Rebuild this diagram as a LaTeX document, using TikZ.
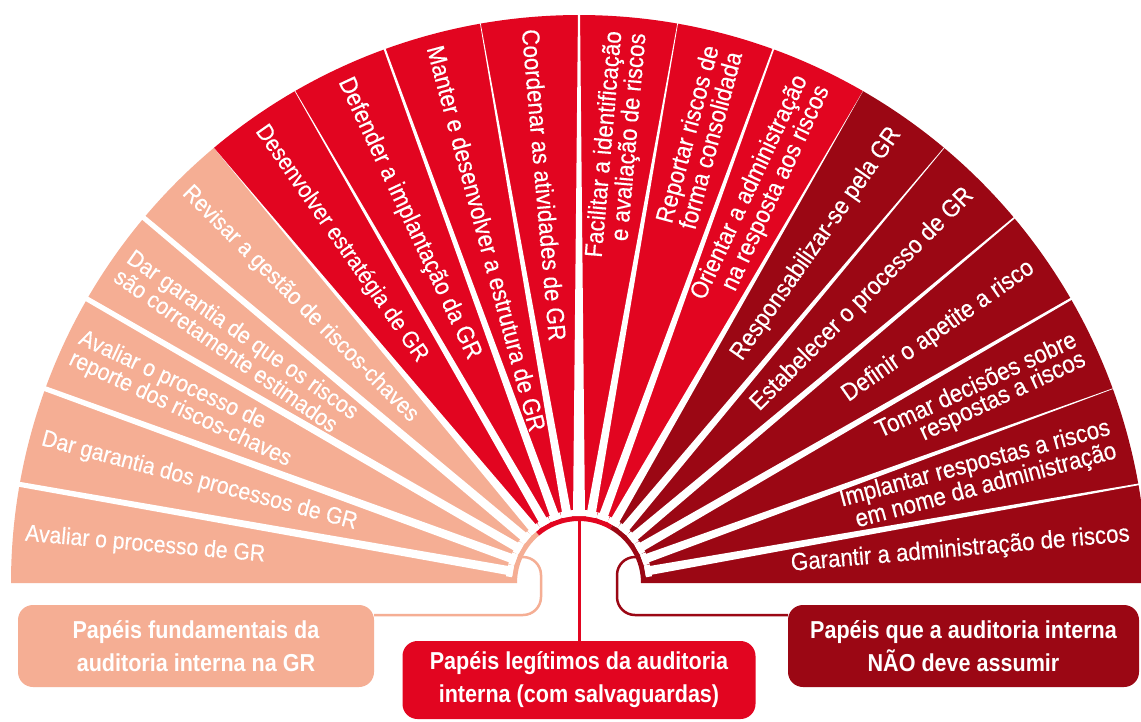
\documentclass[tikz,border=0pt]{standalone}
\usepackage{fontspec}
\setmainfont{Liberation Sans}
\newfontfamily\secfont{Liberation Sans}[FakeStretch=0.9, FakeBold=0.35]
\newfontfamily\boxfont{Liberation Sans}[FakeStretch=0.88]
\definecolor{peach}{HTML}{F5AE94}
\definecolor{ired}{HTML}{E20520}
\definecolor{dred}{HTML}{9B0714}
\tikzset{
  sectxt/.style={text=white, inner sep=0pt, font=\secfont\fontsize{23.5}{20.5}\selectfont},
  bigtxt/.style={font=\secfont\fontsize{24.8}{21}\selectfont},
  lefttxt/.style={sectxt, anchor=west, align=left},
  righttxt/.style={sectxt, bigtxt, anchor=east, align=right},
  rolebox/.style={rounded corners=15pt, text=white, inner sep=0pt, align=center,
    font=\boxfont\bfseries\fontsize{24.5}{33}\selectfont},
  link/.style={line width=2.5pt, rounded corners=18pt}
}
\begin{document}
\begin{tikzpicture}[x=1pt,y=-1pt]
\fill[white] (0,0) rectangle (1141,721);
\useasboundingbox (0,0) rectangle (1141,721);

% boxes
\node[rolebox, fill=peach, minimum width=356, minimum height=82] (pbox) at (196,646)
  {Papéis fundamentais da\\auditoria interna na GR};
\node[rolebox, fill=ired, minimum width=353, minimum height=78] (rbox) at (579,680)
  {Papéis legítimos da auditoria\\interna (com salvaguardas)};
\node[rolebox, fill=dred, minimum width=351, minimum height=82] (dbox) at (963.5,646)
  {Papéis que a auditoria interna\\NÃO deve assumir};

% connectors
\coordinate (pstart) at (516,557);
\coordinate (pend) at (374,615);
\coordinate (dstart) at (642,557);
\coordinate (dend) at (788,615);
\coordinate (rstart) at (579,521);
\draw[link, peach] (pstart) -- (541,557) -- (541,615) -- (pend);
\draw[link, dred] (dstart) -- (617,557) -- (617,615) -- (dend);

% fan
\begin{scope}[shift={(579,583)}, y=1pt]
\fill[peach] (180:62) -- (180:568) arc[start angle=180,end angle=130,radius=568]
  -- (130:62) arc[start angle=130,end angle=180,radius=62] -- cycle;
\fill[ired] (130:62) -- (130:568) arc[start angle=130,end angle=60,radius=568]
  -- (60:62) arc[start angle=60,end angle=130,radius=62] -- cycle;
\fill[dred] (60:62) -- (60:568) arc[start angle=60,end angle=0,radius=568]
  -- (0:62) arc[start angle=0,end angle=60,radius=62] -- cycle;
\foreach \a/\wa/\wb in {170/9/5,160/9/5,150/9/5,140/9/5,130/9/0,120/9/0.6,110/9/2,
  100/9/0.6,90/12/2,80/9/0.6,70/9/1.6,60/9/0,50/9/0.6,40/9/1.6,30/9/2.2,20/9/0.6,10/9/1.6}
  {\fill[white, rotate=\a] (67,-\wa/2) -- (572,-\wb/2) -- (572,\wb/2) -- (67,\wa/2) -- cycle;
   \fill[white, rotate=\a] (67,-\wa/2-1.5) rectangle (73,\wa/2+1.5);}

\node[lefttxt, rotate=-5]  (s0) at (175:556) {Avaliar o processo de GR};
\node[lefttxt, rotate=-15] (s1) at (165:556) {Dar garantia dos processos de GR};
\node[lefttxt, rotate=-25] (s2) at (155:556) {Avaliar o processo de\\reporte dos riscos-chaves};
\node[lefttxt, rotate=-35] (s3) at (145:556) {Dar garantia de que os riscos\\são corretamente estimados};
\node[lefttxt, rotate=-45] (s4) at (135:556) {Revisar a gestão de riscos-chaves};
\node[lefttxt, rotate=-55] (s5) at (125:556) {Desenvolver estratégia de GR};
\node[lefttxt, bigtxt, rotate=-65] (s6) at (115:556) {Defender a implantação da GR};
\node[lefttxt, bigtxt, rotate=-75] (s7) at (105:556) {Manter e desenvolver a estrutura de GR};
\node[lefttxt, bigtxt, rotate=-85] (s8) at (95:556)  {Coordenar as atividades de GR};
\node[righttxt, rotate=85] (s9) at (85:553)  {Facilitar a identificação\\e avaliação de riscos};
\node[righttxt, rotate=75] (s10) at (75:553) {Reportar riscos de\\forma consolidada};
\node[righttxt, rotate=65] (s11) at (65:553) {Orientar a administração\\na resposta aos riscos};
\node[righttxt, rotate=55] (s12) at (55:553) {Responsabilizar-se pela GR};
\node[righttxt, rotate=45] (s13) at (45:553) {Estabelecer o processo de GR};
\node[righttxt, rotate=35] (s14) at (35:553) {Definir o apetite a risco};
\node[righttxt, rotate=25] (s15) at (25:553) {Tomar decisões sobre\\respostas a riscos};
\node[righttxt, rotate=15] (s16) at (15:553) {Implantar respostas a riscos\\em nome da administração};
\node[righttxt, rotate=5]  (s17) at (5:553)  {Garantir a administração de riscos};
\end{scope}

\draw[ired, line width=3pt] (rstart) -- (rbox.north);
\end{tikzpicture}
\end{document}
